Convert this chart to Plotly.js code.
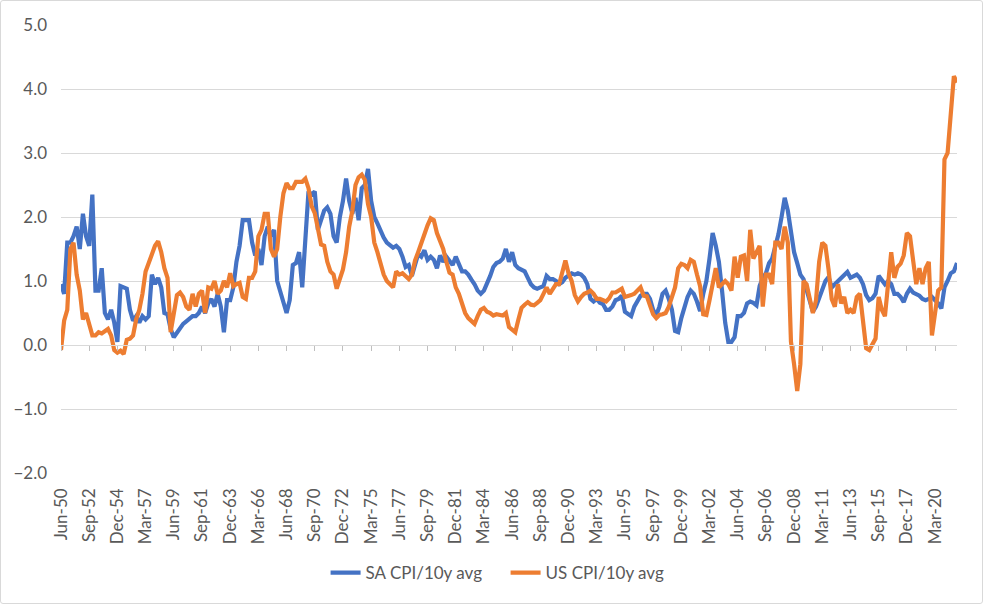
<!DOCTYPE html>
<html>
<head>
<meta charset="utf-8">
<script src="https://cdn.plot.ly/plotly-3.0.1.min.js"></script>
<style>
  html, body { margin: 0; padding: 0; background: #fff; }
  #wrap { position: relative; width: 983px; height: 604px; }
  #chart { width: 983px; height: 604px; }
  #frame { position: absolute; left: 0; top: 0; width: 983px; height: 604px; box-sizing: border-box;
           border: 1px solid #d9d9d9; border-radius: 3px; pointer-events: none; }
</style>
</head>
<body>
<div id="wrap"><div id="chart"></div><div id="frame"></div></div>
<script>
// Quarterly readings, Jun-50 .. Dec-21
const SA_CPI = [
  0.95, 0.8, 1.6, 1.6, 1.7, 1.85, 1.5, 2.05, 1.7, 1.55,
  2.35, 0.85, 0.85, 1.2, 0.5, 0.4, 0.55, 0.35, 0.05, 0.92,
  0.9, 0.88, 0.55, 0.38, 0.45, 0.35, 0.45, 0.4, 0.45, 1.1,
  0.95, 1.05, 0.9, 0.5, 0.48, 0.25, 0.12, 0.2, 0.28, 0.33,
  0.37, 0.42, 0.45, 0.45, 0.5, 0.6, 0.5, 0.65, 0.72, 0.6,
  0.8, 0.6, 0.2, 0.7, 0.7, 0.9, 1.3, 1.55, 1.95, 1.95,
  1.95, 1.6, 1.4, 1.5, 1.25, 1.7, 1.85, 1.7, 1.8, 1.0,
  0.85, 0.68, 0.5, 0.7, 1.25, 1.28, 1.45, 0.9, 1.7, 2.4,
  2.35, 2.4, 1.8, 1.95, 2.1, 2.15, 2.05, 1.7, 1.6, 2.0,
  2.25, 2.6, 2.25, 2.05, 2.3, 1.95, 2.45, 2.5, 2.75, 2.25,
  2.0, 1.9, 1.78, 1.68, 1.6, 1.55, 1.52, 1.55, 1.5, 1.38,
  1.22, 1.25, 1.08, 1.25, 1.42, 1.38, 1.48, 1.33, 1.38, 1.33,
  1.2, 1.4, 1.3, 1.38, 1.32, 1.25, 1.38, 1.25, 1.15, 1.15,
  1.1, 1.02, 0.95, 0.85, 0.8, 0.85, 0.95, 1.08, 1.22, 1.28,
  1.3, 1.35, 1.5, 1.3, 1.45, 1.25, 1.2, 1.17, 1.15, 1.05,
  0.95, 0.9, 0.88, 0.9, 0.92, 1.08, 1.03, 1.03, 1.0, 0.95,
  0.98, 1.05, 1.08, 1.12, 1.1, 1.12, 1.1, 1.05, 0.95, 0.72,
  0.68, 0.72, 0.66, 0.64, 0.55, 0.55, 0.6, 0.7, 0.72, 0.77,
  0.52, 0.48, 0.45, 0.6, 0.7, 0.77, 0.8, 0.8, 0.72, 0.55,
  0.46, 0.6, 0.8, 0.85, 0.72, 0.55, 0.22, 0.2, 0.42, 0.6,
  0.75, 0.85, 0.8, 0.68, 0.53, 0.8, 1.0, 1.35, 1.75, 1.55,
  1.3, 0.85, 0.35, 0.05, 0.05, 0.12, 0.45, 0.45, 0.5, 0.65,
  0.68, 0.66, 0.62, 0.92, 1.05, 1.12, 1.28, 1.35, 1.52, 1.73,
  2.0, 2.3, 2.1, 1.75, 1.45, 1.28, 1.1, 1.03, 0.87, 0.66,
  0.52, 0.6, 0.75, 0.88, 1.0, 1.06, 0.9, 0.95, 1.0, 1.05,
  1.1, 1.14, 1.05, 1.08, 1.1, 1.05, 0.95, 0.78, 0.7, 0.73,
  0.8, 1.08, 1.0, 0.95, 1.0, 0.95, 0.8, 0.8, 0.75, 0.67,
  0.8, 0.88, 0.82, 0.8, 0.77, 0.72, 0.7, 0.72, 0.75, 0.7,
  0.65, 0.57, 0.9, 1.0, 1.12, 1.15, 1.28
];
const US_CPI = [
  -0.08, 0.38, 0.55, 1.5, 1.6, 1.1, 0.85, 0.4, 0.5, 0.35,
  0.15, 0.15, 0.2, 0.18, 0.22, 0.25, 0.15, -0.08, -0.12, -0.09,
  -0.14, 0.08, 0.1, 0.15, 0.4, 0.55, 0.8, 1.15, 1.28, 1.4,
  1.55, 1.62, 1.45, 1.2, 1.05, 0.2, 0.45, 0.78, 0.82, 0.75,
  0.6, 0.55, 0.8, 0.6, 0.8, 0.85, 0.5, 0.9, 0.88, 1.0,
  0.8, 0.85, 1.0, 0.9, 1.12, 0.92, 0.95, 0.97, 0.75, 0.72,
  1.05, 1.05, 1.15, 1.7, 1.8, 2.05, 2.05, 1.5, 1.38, 1.5,
  2.0, 2.37, 2.53, 2.45, 2.45, 2.55, 2.55, 2.55, 2.6, 2.45,
  2.17, 2.06, 1.82, 1.57, 1.55, 1.3, 1.15, 1.1, 0.88, 1.05,
  1.18, 1.45, 1.85, 2.1, 2.5, 2.62, 2.66, 2.58, 2.2, 2.0,
  1.6, 1.45, 1.28, 1.1, 1.0, 0.95, 0.9, 1.15, 1.1, 1.12,
  1.08, 1.03, 1.1, 1.32, 1.45, 1.6, 1.73, 1.87, 1.98, 1.95,
  1.75, 1.62, 1.5, 1.3, 1.13, 1.1, 0.9, 0.8, 0.65, 0.5,
  0.42, 0.38, 0.33, 0.45, 0.55, 0.58, 0.52, 0.5, 0.46, 0.48,
  0.47, 0.46, 0.5, 0.28, 0.24, 0.2, 0.4, 0.58, 0.63, 0.67,
  0.63, 0.62, 0.66, 0.7, 0.8, 0.9, 0.8, 0.88, 0.95, 0.95,
  1.15, 1.32, 1.12, 1.0, 0.78, 0.68, 0.75, 0.8, 0.82, 0.85,
  0.8, 0.72, 0.72, 0.7, 0.68, 0.73, 0.82, 0.82, 0.85, 0.88,
  0.75, 0.76, 0.78, 0.8, 0.85, 0.9, 0.77, 0.76, 0.62, 0.48,
  0.42, 0.47, 0.48, 0.5, 0.6, 0.75, 0.9, 1.2, 1.27, 1.25,
  1.2, 1.33, 1.3, 1.1, 0.92, 0.48, 0.47, 0.7, 1.0, 1.2,
  0.9, 0.95, 1.0, 0.95, 0.85, 1.38, 1.05, 1.38, 1.4, 1.0,
  1.8, 1.35, 1.45, 1.55, 0.6, 1.1, 1.1, 0.95, 1.6, 1.6,
  1.5, 1.85, 1.6, 0.05, -0.3, -0.72, -0.3, 1.0, 0.95, 0.68,
  0.5, 0.7, 1.3, 1.6, 1.55, 1.18, 0.72, 0.6, 0.95, 0.65,
  0.75, 0.5, 0.55, 0.5, 0.75, 0.8, 0.4, -0.05, -0.08, 0.02,
  0.1, 0.75, 0.55, 0.45, 1.0, 1.45, 1.05, 1.22, 1.27, 1.4,
  1.75, 1.7, 1.32, 0.95, 1.2, 0.95, 1.2, 1.3, 0.15, 0.55,
  0.85, 0.9, 2.9, 3.0, 3.6, 4.2, 4.1
];
const QUARTER_NAMES = ['Mar', 'Jun', 'Sep', 'Dec'];
const FIRST_YEAR = 1950;
const FIRST_QUARTER = 1;      // Jun
const TICK_EVERY = 9;         // one label every 27 months
const SERIES_NAMES = ['SA CPI/10y avg', 'US CPI/10y avg'];

const categories = SA_CPI.map((_, i) => {
  const k = FIRST_QUARTER + i;
  const yr = FIRST_YEAR + Math.floor(k / 4);
  return QUARTER_NAMES[k % 4] + '-' + String(yr % 100).padStart(2, '0');
});
const tickLabels = categories.filter((_, i) => i % TICK_EVERY === 0);

const FONT = 'Lato, "Liberation Sans", sans-serif';
const GREY = '#595959';
const GRID = '#d9d9d9';
const FS = 17;

const traces = [
  { x: categories, y: SA_CPI, name: SERIES_NAMES[0], type: 'scatter', mode: 'lines',
    line: { color: '#4472C4', width: 4.2 }, hoverinfo: 'x+y' },
  { x: categories, y: US_CPI, name: SERIES_NAMES[1], type: 'scatter', mode: 'lines',
    line: { color: '#ED7D31', width: 4.2 }, hoverinfo: 'x+y' },
  { x: categories, y: categories.map(() => null), xaxis: 'x2', type: 'scatter', mode: 'lines',
    showlegend: false, hoverinfo: 'skip' }
];

const layout = {
  width: 983, height: 604,
  margin: { l: 61, r: 26, t: 25, b: 131 },
  paper_bgcolor: '#fff', plot_bgcolor: '#fff',
  font: { family: FONT, color: GREY, size: FS },
  showlegend: true,
  xaxis: {
    type: 'category', range: [0, categories.length - 1],
    anchor: 'free', position: 2 / 7,
    showline: true, linecolor: GRID, linewidth: 1,
    ticks: 'outside', ticklen: 5, tickcolor: '#bfbfbf', tickwidth: 1,
    tickmode: 'array', tickvals: tickLabels, showticklabels: false,
    showgrid: false, zeroline: false
  },
  xaxis2: {
    type: 'category', overlaying: 'x', matches: 'x', anchor: 'y', side: 'bottom',
    tickmode: 'array', tickvals: tickLabels, ticktext: tickLabels,
    tickangle: -90, ticks: '', showline: false, showgrid: false, zeroline: false,
    tickfont: { family: FONT, size: FS, color: GREY }, ticklabelstandoff: 11
  },
  yaxis: {
    range: [-2, 5], dtick: 1, tick0: 0, tickformat: '.1f',
    showgrid: true, gridcolor: GRID, gridwidth: 1,
    zeroline: false, showline: false, ticks: '',
    tickfont: { family: FONT, size: FS, color: GREY }, ticklabelstandoff: 13
  },
  legend: {
    orientation: 'h', x: 0.2953, xanchor: 'left', y: -0.2232, yanchor: 'middle',
    font: { family: FONT, size: FS, color: GREY },
    entrywidth: 135, entrywidthmode: 'pixels', bgcolor: 'rgba(0,0,0,0)'
  }
};

Plotly.newPlot('chart', traces, layout, { displayModeBar: false, staticPlot: true });
</script>
</body>
</html>
